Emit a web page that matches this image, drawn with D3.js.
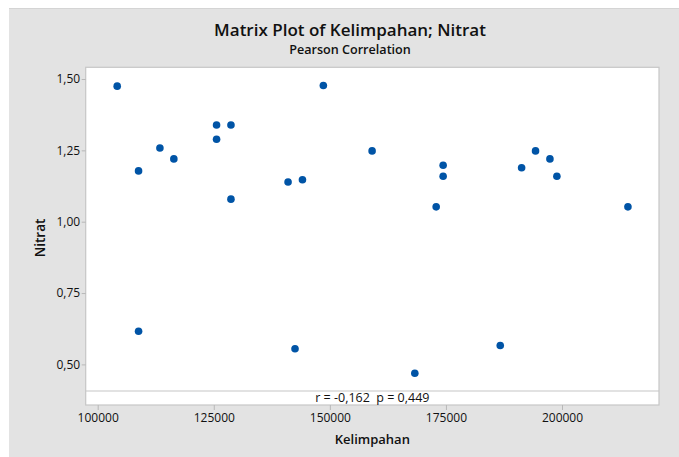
<!DOCTYPE html>
<html>
<head>
<meta charset="utf-8">
<script src="https://cdn.jsdelivr.net/npm/d3@7"></script>
<style>
  html, body { margin: 0; padding: 0; background: #ffffff; }
  svg { display: block; }
  text { font-family: "Open Sans", "Noto Sans", sans-serif; fill: #111111; }
</style>
</head>
<body>
<svg id="chart" width="679" height="457"></svg>
<script>
// ---- data ----
const kelimpahan = [104200, 108800, 108800, 113400, 116400, 125600, 128700, 125600, 128700,
  141000, 144100, 148600, 159100, 142500, 168300, 172900, 174400, 174400, 186700,
  191300, 194300, 197400, 198900, 214200];
const nitrat = [1.475, 1.178, 0.616, 1.258, 1.220, 1.339, 1.339, 1.289, 1.079,
  1.139, 1.147, 1.477, 1.248, 0.555, 0.469, 1.052, 1.198, 1.159, 0.566,
  1.189, 1.248, 1.220, 1.159, 1.052];
const xTicks = [100000, 125000, 150000, 175000, 200000];
const yTicks = [0.50, 0.75, 1.00, 1.25, 1.50];
const title = "Matrix Plot of Kelimpahan; Nitrat";
const subtitle = "Pearson Correlation";
const xLabel = "Kelimpahan";
const yLabel = "Nitrat";
const corrText = "r = -0,162  p = 0,449";

// ---- layout ----
const W = 679, H = 457;
const svg = d3.select("#chart");
const frame = { left: 85.7, right: 659, top: 67.3, bottom: 405 };
const stripY = 391;

// scales anchored at tick pixel positions
const x = d3.scaleLinear().domain([100000, 200000]).range([97.7, 562]);
const y = d3.scaleLinear().domain([0.5, 1.5]).range([364.4, 79]);
const fmtY = v => d3.format(".2f")(v).replace(".", ",");

// background panel
svg.append("rect").attr("x", 0).attr("y", 0).attr("width", W).attr("height", H).attr("fill", "#ffffff");
svg.append("rect").attr("x", 9).attr("y", 8).attr("width", W - 9).attr("height", H - 8)
  .attr("fill", "#e3e3e3");
svg.append("line").attr("x1", 9).attr("x2", W).attr("y1", 8.5).attr("y2", 8.5)
  .attr("stroke", "#d4d4d4").attr("stroke-width", 1);

// plot frame
svg.append("rect")
  .attr("x", frame.left).attr("y", frame.top)
  .attr("width", frame.right - frame.left).attr("height", frame.bottom - frame.top)
  .attr("fill", "#ffffff").attr("stroke", "#c6c6c6").attr("stroke-width", 1.2);
svg.append("line")
  .attr("x1", frame.left).attr("x2", frame.right).attr("y1", stripY).attr("y2", stripY)
  .attr("stroke", "#c6c6c6").attr("stroke-width", 1.2);

// axes
const xAxis = svg.append("g").attr("transform", `translate(0,${frame.bottom})`)
  .call(d3.axisBottom(x).tickValues(xTicks).tickFormat(d3.format("d")).tickSize(5).tickPadding(3));
const yAxis = svg.append("g").attr("transform", `translate(${frame.left},0)`)
  .call(d3.axisLeft(y).tickValues(yTicks).tickFormat(fmtY).tickSize(4).tickPadding(1.5));
[xAxis, yAxis].forEach(g => {
  g.select(".domain").remove();
  g.selectAll(".tick line").attr("stroke", "#b8b8b8").attr("stroke-width", 1);
  g.selectAll(".tick text").style("font-size", "12px").attr("fill", "#000000")
    .style("font-family", "'Open Sans', 'Noto Sans', sans-serif");
});

// points
svg.append("g").selectAll("circle")
  .data(kelimpahan.map((k, i) => [k, nitrat[i]]))
  .join("circle")
  .attr("cx", d => x(d[0])).attr("cy", d => y(d[1]))
  .attr("r", 3.8).attr("fill", "#0054a6");

// correlation text
svg.append("text").attr("x", (frame.left + frame.right) / 2).attr("y", 402)
  .attr("text-anchor", "middle").style("font-size", "12.5px").style("white-space", "pre")
  .attr("fill", "#000000").attr("xml:space", "preserve").text(corrText);

// titles
svg.append("text").attr("x", 350).attr("y", 35.5).attr("text-anchor", "middle")
  .style("font-size", "17px").style("font-weight", "600").text(title);
svg.append("text").attr("x", 350).attr("y", 54).attr("text-anchor", "middle")
  .style("font-size", "12.6px").style("font-weight", "600").text(subtitle);

// axis labels
svg.append("text").attr("x", (frame.left + frame.right) / 2).attr("y", 443.5)
  .attr("text-anchor", "middle").style("font-size", "13px").style("font-weight", "600").text(xLabel);
svg.append("text").attr("transform", `translate(44.5,238) rotate(-90)`)
  .attr("text-anchor", "middle").style("font-size", "13.5px").style("font-weight", "600").text(yLabel);
</script>
</body>
</html>
